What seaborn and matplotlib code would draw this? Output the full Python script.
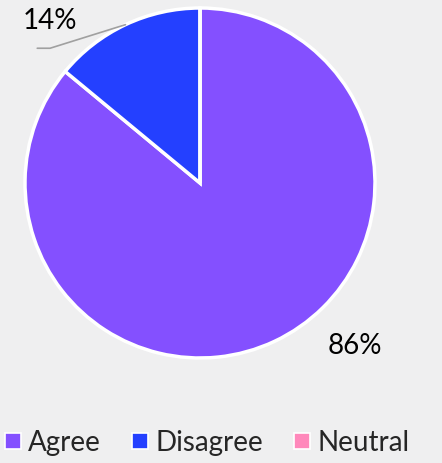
import numpy as np
import matplotlib
matplotlib.use("Agg")
import matplotlib.pyplot as plt
import seaborn as sns

# data
categories = ["Agree", "Disagree", "Neutral"]
shares = [86, 14, 0]
colors = ["#8450FF", "#2440FF", "#FF88BB"]

sns.set_theme(style="white")
plt.rcParams["font.family"] = ["Lato", "DejaVu Sans"]

fig = plt.figure(figsize=(4.42, 4.63), dpi=100, facecolor="#EFEFF0")
ax = fig.add_axes([25 / 442, 105 / 463, 350 / 442, 350 / 463])
ax.set_facecolor("none")

wedges, _ = ax.pie(shares, colors=colors, startangle=90, counterclock=False,
                   radius=1, wedgeprops={"edgecolor": "white", "linewidth": 2.5})
ax.set_xlim(-1, 1)
ax.set_ylim(-1, 1)
ax.set_aspect("equal")
ax.axis("off")

# data labels (Excel "best fit" placement)
ax.text(0.885, -0.93, f"{shares[0]}%", ha="center", va="center", fontsize=20, color="black")
ax.text(-0.857, 0.925, f"{shares[1]}%", ha="center", va="center", fontsize=20, color="black")

# leader line for the small slice
w = wedges[1]
mid = np.deg2rad((w.theta1 + w.theta2) / 2)
ex, ey = np.cos(mid), np.sin(mid)
ax.plot([ex, -0.857, -0.93], [ey, 0.77, 0.77], color="#A0A0A0", lw=1.2, clip_on=False)

handles = [plt.Line2D([], [], marker="s", ls="", color=c, markersize=11,
                      markeredgecolor="white", markeredgewidth=1.2) for c in colors]
fig.legend(handles, categories, loc="center", bbox_to_anchor=(207 / 442, 1 - 443 / 463),
           ncol=3, frameon=False, fontsize=20, handletextpad=0.25, columnspacing=1.1,
           handlelength=0.6)

fig.savefig("out.png", dpi=100, facecolor=fig.get_facecolor())
